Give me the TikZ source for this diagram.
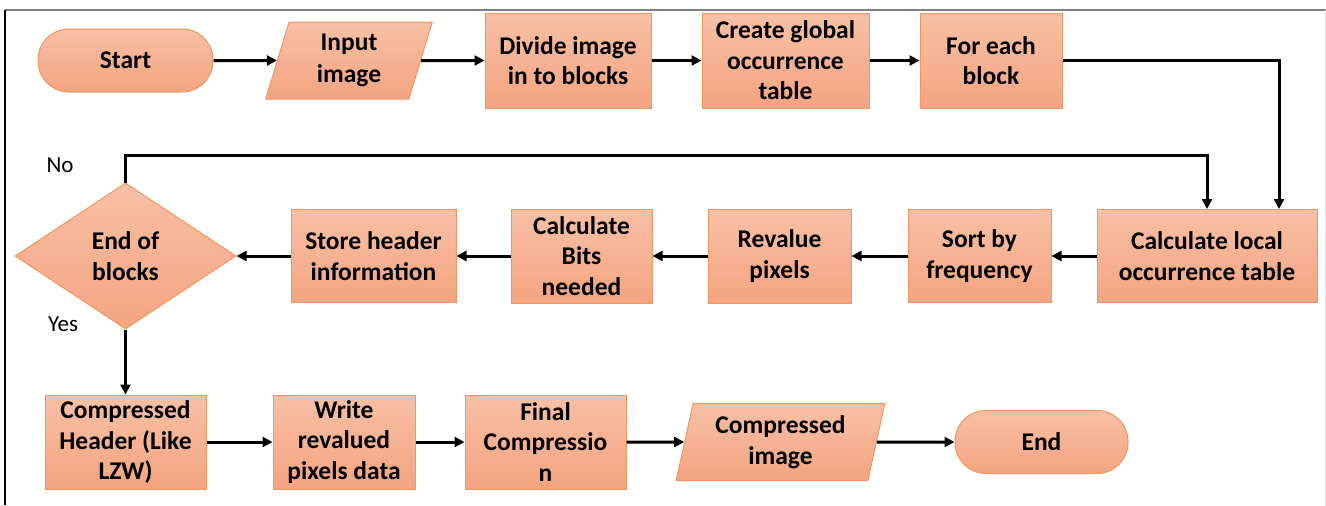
\documentclass[tikz,border=0pt]{standalone}
\usepackage{fontspec}
\setmainfont{Carlito}
\usetikzlibrary{shapes.geometric,arrows.meta}
\definecolor{filltop}{RGB}{247,192,166}
\definecolor{fillbot}{RGB}{244,164,128}
\definecolor{edge}{RGB}{242,150,95}
\tikzset{
  box/.style={draw=edge, line width=1pt, top color=filltop, bottom color=fillbot,
    inner sep=0pt, align=center, font=\bfseries\fontsize{25.5}{30.5}\selectfont},
  procbox/.style={box, rectangle},
  termbox/.style={box, rectangle, rounded corners=31pt, minimum width=175pt, minimum height=63pt},
  iobox/.style={box, trapezium, trapezium left angle=76.5, trapezium right angle=103.5,
    trapezium stretches=true, minimum height=77pt},
  decbox/.style={box, diamond, minimum width=221pt, minimum height=146pt, aspect=1.5},
  arr/.style={line width=3pt, -{Triangle[length=10pt,width=10pt]}},
  lbl/.style={font=\fontsize{23}{27}\selectfont, inner sep=0pt}
}
\begin{document}
\begin{tikzpicture}[x=1pt,y=-1pt]
\useasboundingbox (0,0) rectangle (1326,506);
% frame
\draw[line width=2pt, color=gray] (5,10) -- (1326,10);
\draw[line width=1.2pt, color=black] (5,10) -- (5,505);
\draw[line width=1pt, color=gray!25] (1325,10) -- (1325,506);

% first row
\node[termbox] (start) at (125.5,60.5) {Start};
\node[iobox, minimum width=168pt] (input) at (349,60.5) {Input\\[1pt]image};
\node[procbox, minimum width=166pt, minimum height=95pt] (divide) at (568,60.5) {Divide image\\in to blocks};
\node[procbox, minimum width=167pt, minimum height=95pt] (global) at (785.5,60.5) {Create global\\occurrence\\table};
\node[procbox, minimum width=142pt, minimum height=95pt] (foreach) at (991,60.5) {For each\\block};

% second row
\node[procbox, minimum width=220pt, minimum height=93pt] (local) at (1207,256) {Calculate local\\occurrence table};
\node[procbox, minimum width=143pt, minimum height=93pt] (sort) at (979.5,256) {Sort by\\frequency};
\node[procbox, minimum width=143pt, minimum height=94pt] (revalue) at (779.5,256) {Revalue\\pixels};
\node[procbox, minimum width=141pt, minimum height=94pt] (bits) at (581.5,256) {Calculate\\Bits\\needed};
\node[procbox, minimum width=165pt, minimum height=93pt] (store) at (373.5,256) {Store header\\information};
\node[decbox] (endblk) at (125.5,256) {End of\\blocks};

% third row
\node[procbox, minimum width=161pt, minimum height=94pt] (header) at (125.5,442) {Compressed\\Header (Like\\LZW)};
\node[procbox, minimum width=142pt, minimum height=94pt] (write) at (344,442) {Write\\revalued\\pixels data};
\node[procbox, minimum width=161pt, minimum height=94pt] (final) at (545.5,442) {Final\\Compressio\\n};
\node[iobox, minimum width=209pt] (cimg) at (780.5,442) {Compressed\\image};
\node[termbox, minimum width=173pt] (stop) at (1041.5,442) {End};

% branch labels
\node[lbl] (no) at (60,165) {No};
\node[lbl] (yes) at (63,324) {Yes};

% connectors
\draw[arr] (start) -- (input);
\draw[arr] (input) -- (divide);
\draw[arr] (divide) -- (global);
\draw[arr] (global) -- (foreach);
\draw[arr] (foreach.east) -| ([xshift=72pt]local.north);
\draw[arr] (local) -- (sort);
\draw[arr] (sort) -- (revalue);
\draw[arr] (revalue) -- (bits);
\draw[arr] (bits) -- (store);
\draw[arr] (store) -- (endblk);
\draw[arr] (endblk.north) -- ++(0,-27) -| (local.north);
\draw[arr] (endblk) -- (header);
\draw[arr] (header) -- (write);
\draw[arr] (write) -- (final);
\draw[arr] (final) -- (cimg);
\draw[arr] (cimg) -- (stop);
\end{tikzpicture}
\end{document}
